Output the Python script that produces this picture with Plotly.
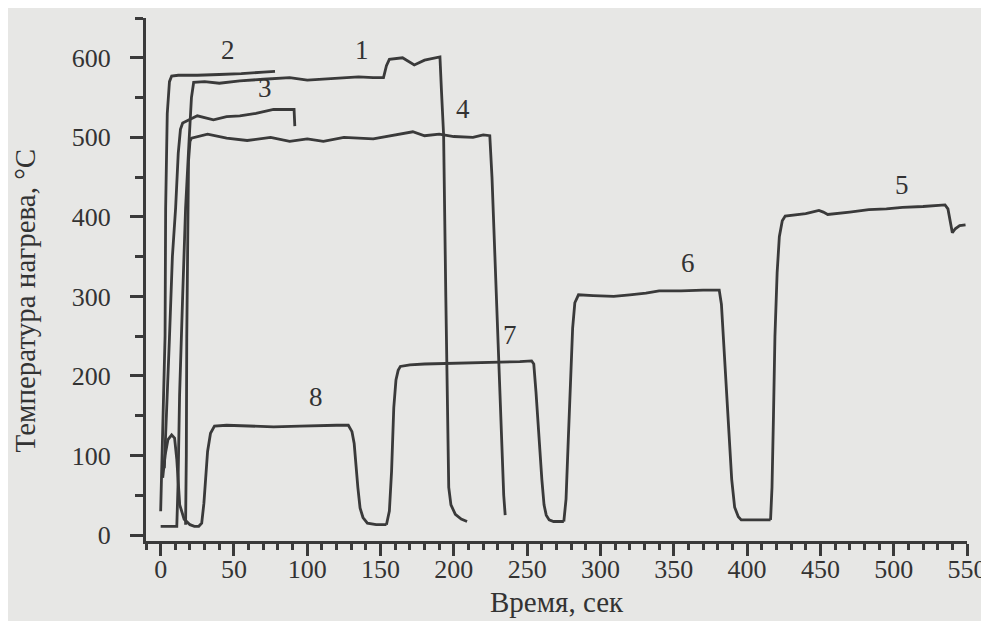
import plotly.graph_objects as go

# ---- data (time, s ; temperature, °C) ----
t1 = [0, 11, 11.8, 12.9, 15, 17, 19.5, 21, 22.5, 30, 40, 54, 70, 88, 100, 122, 135, 145, 152, 154, 156, 165, 173, 180, 190,
      190.5, 191.5, 193, 194.5, 195.5, 196.5, 198, 201, 205, 209]
T1 = [11, 11, 60, 175, 300, 411, 500, 550, 569, 570, 568, 571, 573, 575, 572, 574, 576, 575, 575, 590, 598, 600, 591, 597, 601,
      601, 560, 503, 300, 150, 60, 38, 26, 20, 17]

t2 = [0, 1.5, 3, 3.4, 4.5, 6, 7.5, 12, 25, 40, 55, 70, 78]
T2 = [30, 150, 250, 411, 530, 570, 577, 578, 578, 579, 580, 582, 583]

t3 = [2.5, 4, 6, 8, 10.2, 12, 13.5, 15, 20, 25, 36, 45, 54, 65, 77, 91, 91.5]
T3 = [84, 150, 248, 350, 411, 480, 510, 518, 523, 527, 522, 526, 527, 530, 535, 535, 514]

t4 = [17, 17.5, 17.8, 18.4, 19, 20, 21, 32, 45, 59, 75, 88, 100, 111, 125, 145, 160, 172, 180, 190, 200, 213, 220, 224,
      224.5, 226, 228, 230.5, 232.5, 234, 235]
T4 = [13, 100, 248, 411, 470, 495, 499, 504, 499, 496, 500, 495, 498, 495, 500, 498, 503, 507, 502, 504, 501, 500, 503, 502,
      502, 450, 350, 235, 120, 50, 25]

t8 = [1.4, 3, 5, 7.5, 9.5, 11, 13, 16, 20, 23, 26, 28, 29.5, 30.6, 32, 34, 36.7, 45, 60, 77, 95, 110, 120, 128,
      130.5, 132, 133, 134.5, 136, 138, 141, 147, 154]
T8 = [72, 100, 120, 126, 122, 95, 38, 20, 13, 11, 11, 15, 40, 70, 105, 128, 137, 138, 137, 136, 137, 138, 138, 138,
      130, 115, 90, 60, 34, 22, 15, 13, 13]

t7 = [154, 156, 157.5, 159, 160.5, 162, 163.5, 170, 180, 200, 215, 230, 245, 253, 254.5, 256, 258, 260, 261.5, 263, 265, 268, 275]
T7 = [13, 30, 80, 160, 195, 207, 212, 214, 215, 216, 216, 217, 218, 219, 215, 180, 118, 70, 38, 25, 19, 17, 17]

t6 = [275, 276.5, 278, 279.5, 281, 282.5, 285, 295, 309, 320, 331, 340, 355, 370, 381,
      382.5, 384, 385.5, 387.5, 389.5, 391.5, 394, 396, 405, 416]
T6 = [17, 45, 118, 200, 260, 292, 302, 301, 300, 302, 304, 307, 307, 308, 308,
      290, 240, 190, 120, 70, 35, 23, 19, 19, 19]

t5 = [416, 417, 418, 419, 420.5, 422, 424, 426, 440, 449, 452, 455, 470, 483, 495, 506, 520, 535,
      537, 538.5, 540, 542, 545, 549]
T5 = [19, 60, 150, 250, 330, 375, 395, 401, 404, 408, 406, 403, 406, 409, 410, 412, 413, 415,
      410, 395, 380, 385, 389, 390]

curve_names = ["1", "2", "3", "4", "5", "6", "7", "8"]
label_t = [137, 46, 71, 206, 506, 360, 238, 106]
label_T = [610, 610, 562, 535, 440, 342, 251, 174]

x_ticks = list(range(0, 551, 50))
y_ticks = list(range(0, 601, 100))

LINE = "#3a3a3a"
TEXT = "#333333"
BG = "#e7e7e5"
FONT = "Liberation Serif"

fig = go.Figure()
series = [(t1, T1, "1"), (t2, T2, "2"), (t3, T3, "3"), (t4, T4, "4"),
          (t8, T8, "8"), (t7, T7, "7"), (t6, T6, "6"), (t5, T5, "5")]
for tx, ty, nm in series:
    fig.add_trace(go.Scatter(x=tx, y=ty, mode="lines", name=nm,
                             line=dict(color=LINE, width=2.8), showlegend=False))

for nm, lx, ly in zip(curve_names, label_t, label_T):
    fig.add_annotation(x=lx, y=ly, text=nm, showarrow=False,
                       font=dict(family=FONT, size=27, color=TEXT))

fig.add_annotation(xref="paper", yref="paper", x=0.5, y=-0.117, xanchor="center", yanchor="middle",
                   text="Время, сек", showarrow=False, font=dict(family=FONT, size=29, color=TEXT))
fig.add_annotation(xref="paper", yref="paper", x=-0.148, y=0.461, xanchor="center", yanchor="middle",
                   text="Температура нагрева, °С", textangle=-90, showarrow=False,
                   font=dict(family=FONT, size=29, color=TEXT))

fig.update_layout(
    width=989, height=621,
    margin=dict(l=138, r=27, t=10, b=88),
    paper_bgcolor=BG, plot_bgcolor=BG,
    font=dict(family=FONT, size=26, color=TEXT),
    xaxis=dict(range=[-10, 550], tickvals=x_ticks, ticks="outside", ticklen=12, tickwidth=3,
               tickcolor=LINE, showline=True, linewidth=3, linecolor=LINE,
               showgrid=False, zeroline=False, ticklabelstandoff=-9,
               minor=dict(dtick=10, tick0=0, ticks="outside", ticklen=6, tickwidth=3, tickcolor=LINE, showgrid=False),
               tickfont=dict(family=FONT, size=26, color=TEXT)),
    yaxis=dict(range=[-7.5, 650], tickvals=y_ticks, ticks="outside", ticklen=13, tickwidth=3,
               tickcolor=LINE, showline=True, linewidth=3, linecolor=LINE,
               showgrid=False, zeroline=False, ticklabelstandoff=14,
               minor=dict(dtick=50, tick0=0, ticks="outside", ticklen=8, tickwidth=3, tickcolor=LINE, showgrid=False),
               tickfont=dict(family=FONT, size=26, color=TEXT)),
)

fig.write_html("out.html")
